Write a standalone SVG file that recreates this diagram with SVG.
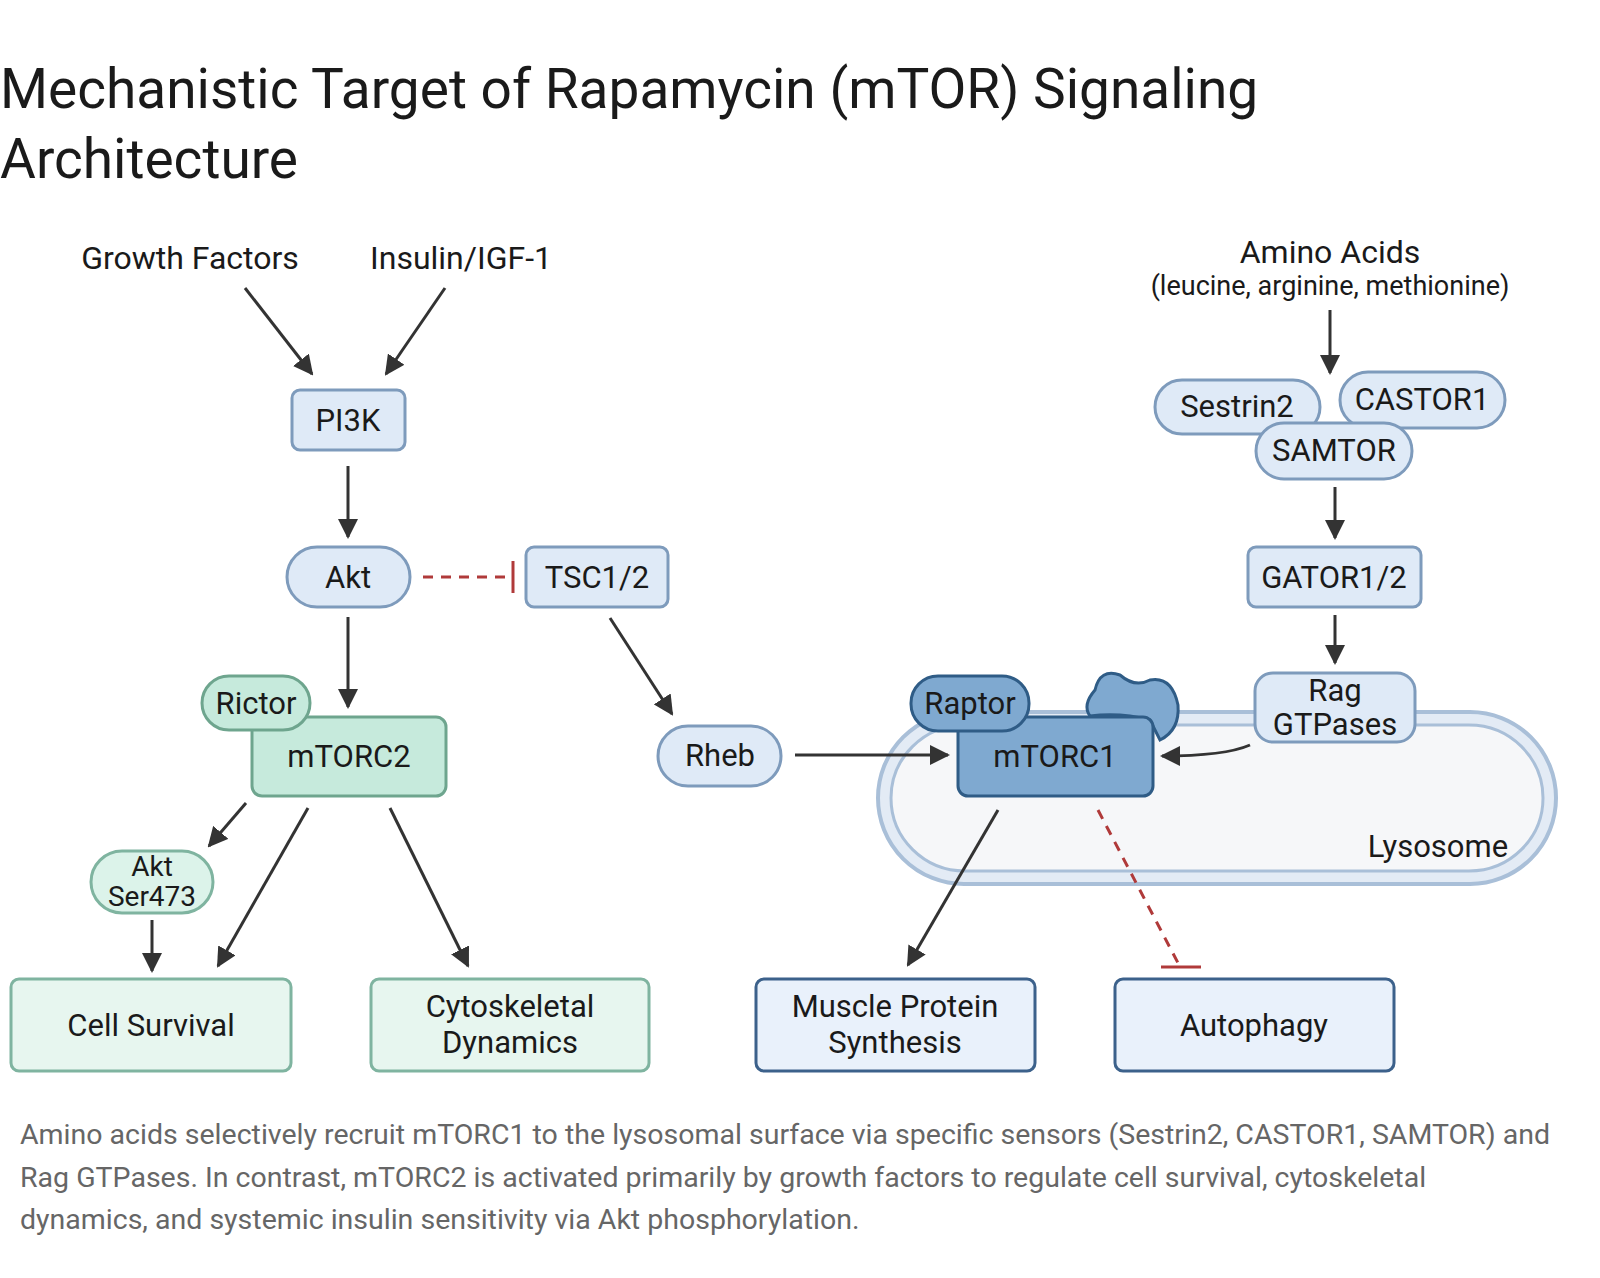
<svg xmlns="http://www.w3.org/2000/svg" width="1600" height="1278" viewBox="0 0 1600 1278">
<defs>
<marker id="ah" viewBox="0 0 10 10" refX="9" refY="5" markerWidth="20" markerHeight="20" orient="auto" markerUnits="userSpaceOnUse"><path d="M0,0 L10,5 L0,10 z" fill="#333"/></marker>
</defs>
<style>
text{font-family:Roboto,"Liberation Sans",sans-serif;fill:#1a1a1a;text-anchor:middle}
.lbl{font-size:31px}
.b{fill:#dfeaf7;stroke:#7e9bbc;stroke-width:3}
.g{fill:#c6eadc;stroke:#6ea58e;stroke-width:3}
.d{fill:#7fa9d0;stroke:#2f5c86;stroke-width:3}
.gb{fill:#e7f6ef;stroke:#7fb4a0;stroke-width:3}
.bb{fill:#e9f1fb;stroke:#3c618b;stroke-width:3}
.a{stroke:#333;stroke-width:3;fill:none;marker-end:url(#ah)}
.inh{stroke:#b03a3a;stroke-width:3;fill:none;stroke-dasharray:10 8}
</style>
<rect width="1600" height="1278" fill="#fff"/>
<text x="0" y="108" style="font-size:55px;text-anchor:start">Mechanistic Target of Rapamycin (mTOR) Signaling</text>
<text x="0" y="178" style="font-size:55px;text-anchor:start">Architecture</text>
<text x="190" y="269" style="font-size:32px">Growth Factors</text>
<text x="461" y="269" style="font-size:32px">Insulin/IGF-1</text>
<text x="1330" y="263" style="font-size:32px">Amino Acids</text>
<text x="1330" y="295" style="font-size:27px">(leucine, arginine, methionine)</text>
<g id="lysosome">
<rect x="878" y="712" width="678" height="172" rx="86" fill="#e3ebf5" stroke="#a9bfd8" stroke-width="4"/>
<rect x="891" y="725" width="652" height="146" rx="74" fill="#f6f7f9" stroke="#a9bfd8" stroke-width="3"/>
<text x="1438" y="857" class="lbl">Lysosome</text>
</g>
<g id="connectors">
<line x1="245" y1="288" x2="312" y2="374" class="a"/>
<line x1="445" y1="288" x2="386" y2="374" class="a"/>
<line x1="348" y1="466" x2="348" y2="537" class="a"/>
<line x1="348" y1="617" x2="348" y2="707" class="a"/>
<line x1="423" y1="577" x2="511" y2="577" class="inh"/>
<line x1="513" y1="561" x2="513" y2="593" stroke="#b03a3a" stroke-width="3"/>
<line x1="610" y1="618" x2="672" y2="714" class="a"/>
<line x1="795" y1="755" x2="948" y2="755" class="a"/>
<path d="M1250,745 Q1225,756 1162,756" class="a"/>
<line x1="1330" y1="310" x2="1330" y2="373" class="a"/>
<line x1="1335" y1="487" x2="1335" y2="538" class="a"/>
<line x1="1335" y1="615" x2="1335" y2="663" class="a"/>
<line x1="246" y1="803" x2="209" y2="846" class="a"/>
<line x1="308" y1="808" x2="218" y2="966" class="a"/>
<line x1="390" y1="808" x2="468" y2="966" class="a"/>
<line x1="152" y1="920" x2="152" y2="971" class="a"/>
<line x1="998" y1="810" x2="908" y2="965" class="a"/>
<line x1="1098" y1="810" x2="1178" y2="963" class="inh"/>
<line x1="1161" y1="967" x2="1201" y2="967" stroke="#b03a3a" stroke-width="3"/>
</g>
<g id="pi3k"><rect x="292" y="390" width="113" height="60" rx="8" class="b"/><text x="348" y="431" class="lbl">PI3K</text></g>
<g id="akt"><rect x="287" y="547" width="123" height="60" rx="30" class="b"/><text x="348" y="588" class="lbl">Akt</text></g>
<g id="tsc"><rect x="526" y="547" width="142" height="60" rx="8" class="b"/><text x="597" y="588" class="lbl">TSC1/2</text></g>
<g id="mtorc2"><rect x="252" y="717" width="194" height="79" rx="10" class="g"/><text x="349" y="767" class="lbl">mTORC2</text></g>
<g id="rictor"><rect x="202" y="676" width="108" height="54" rx="27" class="g"/><text x="256" y="714" class="lbl">Rictor</text></g>
<g id="aktser"><rect x="91" y="851" width="122" height="62" rx="31" class="gb" style="fill:#dcf3ea"/><text x="152" y="876" style="font-size:28px">Akt</text><text x="152" y="906" style="font-size:28px">Ser473</text></g>
<g id="rheb"><rect x="658" y="726" width="123" height="60" rx="30" class="b"/><text x="720" y="766" class="lbl">Rheb</text></g>
<g id="blob"><path d="M1095,690 Q1100,668 1120,675 Q1135,688 1150,680 Q1172,676 1178,705 Q1180,730 1160,740 L1150,720 Q1120,712 1090,716 Q1082,705 1095,690 z" class="d"/></g>
<g id="mtorc1"><rect x="958" y="717" width="195" height="79" rx="10" class="d"/><text x="1055" y="767" class="lbl">mTORC1</text></g>
<g id="raptor"><rect x="911" y="676" width="118" height="55" rx="27" class="d"/><text x="970" y="714" class="lbl">Raptor</text></g>
<g id="rag"><rect x="1255" y="673" width="160" height="69" rx="18" class="b"/><text x="1335" y="701" class="lbl">Rag</text><text x="1335" y="735" class="lbl">GTPases</text></g>
<g id="sestrin"><rect x="1155" y="380" width="165" height="54" rx="27" class="b"/><text x="1237" y="417" class="lbl">Sestrin2</text></g>
<g id="castor"><rect x="1340" y="372" width="165" height="56" rx="28" class="b"/><text x="1422" y="410" class="lbl">CASTOR1</text></g>
<g id="samtor"><rect x="1256" y="423" width="156" height="56" rx="28" class="b"/><text x="1334" y="461" class="lbl">SAMTOR</text></g>
<g id="gator"><rect x="1248" y="547" width="173" height="60" rx="8" class="b"/><text x="1334" y="588" class="lbl">GATOR1/2</text></g>
<g id="survival"><rect x="11" y="979" width="280" height="92" rx="8" class="gb"/><text x="151" y="1036" class="lbl">Cell Survival</text></g>
<g id="cyto"><rect x="371" y="979" width="278" height="92" rx="8" class="gb"/><text x="510" y="1017" class="lbl">Cytoskeletal</text><text x="510" y="1053" class="lbl">Dynamics</text></g>
<g id="muscle"><rect x="756" y="979" width="279" height="92" rx="8" class="bb"/><text x="895" y="1017" class="lbl">Muscle Protein</text><text x="895" y="1053" class="lbl">Synthesis</text></g>
<g id="autophagy"><rect x="1115" y="979" width="279" height="92" rx="8" class="bb"/><text x="1254" y="1036" class="lbl">Autophagy</text></g>
<g style="font-size:28.5px">
<text x="20" y="1144" style="text-anchor:start;fill:#666">Amino acids selectively recruit mTORC1 to the lysosomal surface via specific sensors (Sestrin2, CASTOR1, SAMTOR) and</text>
<text x="20" y="1187" style="text-anchor:start;fill:#666">Rag GTPases. In contrast, mTORC2 is activated primarily by growth factors to regulate cell survival, cytoskeletal</text>
<text x="20" y="1229" style="text-anchor:start;fill:#666">dynamics, and systemic insulin sensitivity via Akt phosphorylation.</text>
</g>
</svg>
